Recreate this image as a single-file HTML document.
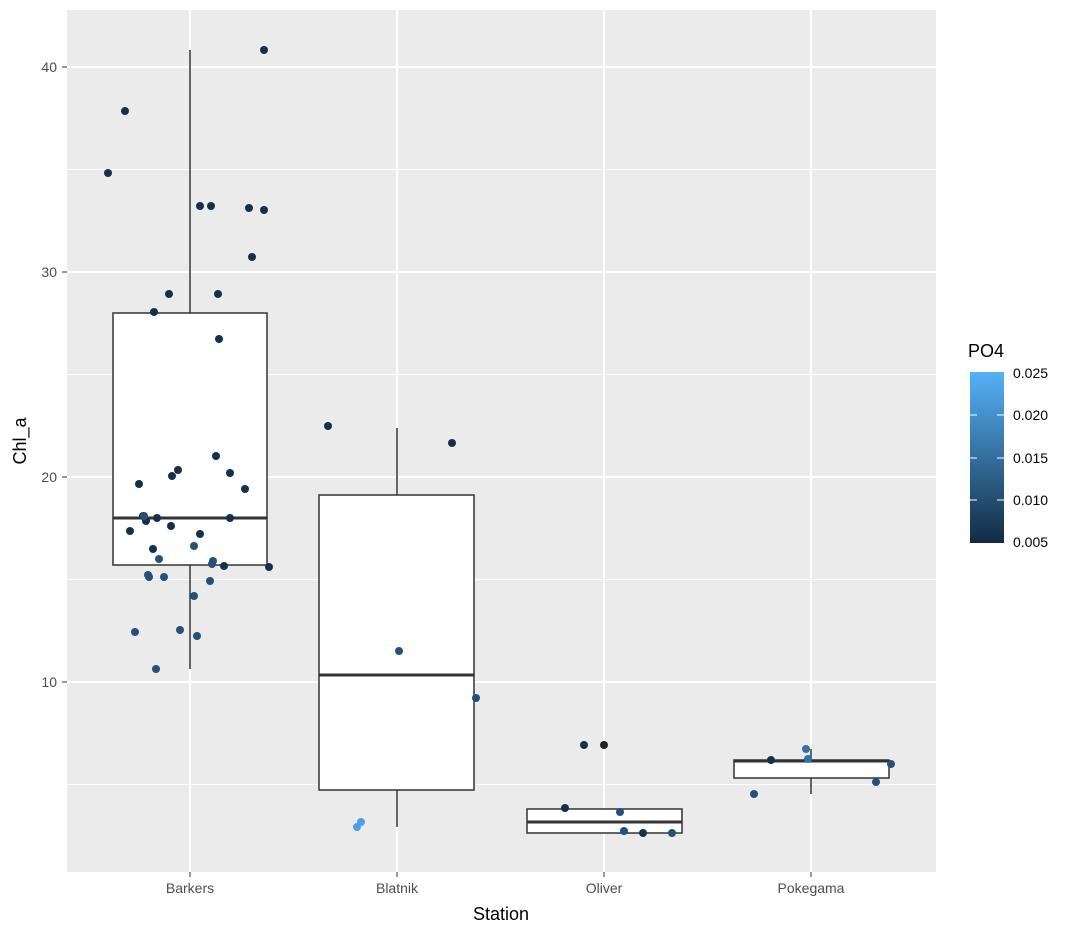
<!DOCTYPE html>
<html><head><meta charset="utf-8"><style>body{margin:0;background:#fff}</style></head><body>
<svg width="1080" height="936" xmlns="http://www.w3.org/2000/svg" font-family="Liberation Sans, sans-serif">
<defs><linearGradient id="g" x1="0" y1="1" x2="0" y2="0"><stop offset="0" stop-color="#132B43"/><stop offset="1" stop-color="#56B1F7"/></linearGradient></defs>
<rect x="67" y="10" width="869" height="862" fill="#EBEBEB"/>
<g stroke="#fff" stroke-width="1">
<line x1="67" x2="936" y1="169.5" y2="169.5"/><line x1="67" x2="936" y1="374.5" y2="374.5"/><line x1="67" x2="936" y1="579.5" y2="579.5"/><line x1="67" x2="936" y1="784.5" y2="784.5"/>
</g>
<g stroke="#fff" stroke-width="2">
<line x1="67" x2="936" y1="67" y2="67"/><line x1="67" x2="936" y1="272" y2="272"/><line x1="67" x2="936" y1="477" y2="477"/><line x1="67" x2="936" y1="682" y2="682"/>
<line x1="190" x2="190" y1="10" y2="872"/><line x1="397" x2="397" y1="10" y2="872"/><line x1="604" x2="604" y1="10" y2="872"/><line x1="811" x2="811" y1="10" y2="872"/>
</g>
<g stroke="#333" stroke-width="1.5" fill="#fff">
<line x1="190" x2="190" y1="50" y2="313"/><line x1="190" x2="190" y1="565" y2="669"/>
<rect x="113" y="313" width="154" height="252"/>
<line x1="397" x2="397" y1="428" y2="495"/><line x1="397" x2="397" y1="790" y2="827"/>
<rect x="319" y="495" width="155" height="295"/>
<rect x="527" y="809" width="155" height="24"/>
<line x1="811" x2="811" y1="749" y2="760"/><line x1="811" x2="811" y1="778" y2="794"/>
<rect x="734" y="760" width="155" height="18"/>
</g>
<g stroke="#333" stroke-width="3">
<line x1="113" x2="267" y1="518" y2="518"/><line x1="319" x2="474" y1="675" y2="675"/><line x1="527" x2="682" y1="822" y2="822"/><line x1="734" x2="889" y1="761" y2="761"/>
</g>
<g fill="#15304A">
<circle cx="264" cy="50" r="4"/><circle cx="125" cy="111" r="4"/><circle cx="108" cy="173" r="4"/>
<circle cx="200" cy="206" r="4"/><circle cx="211" cy="206" r="4"/><circle cx="249" cy="208" r="4"/><circle cx="264" cy="210" r="4"/>
<circle cx="252" cy="257" r="4"/><circle cx="169" cy="294" r="4"/><circle cx="218" cy="294" r="4"/><circle cx="154" cy="312" r="4"/>
<circle cx="219" cy="339" r="4"/><circle cx="216" cy="456" r="4"/><circle cx="178" cy="470" r="4"/><circle cx="172" cy="476" r="4"/>
<circle cx="230" cy="473" r="4"/><circle cx="139" cy="484" r="4"/><circle cx="245" cy="489" r="4"/><circle cx="143" cy="516" r="4"/>
<circle cx="157" cy="518" r="4"/><circle cx="230" cy="518" r="4"/><circle cx="146" cy="521" r="4"/><circle cx="171" cy="526" r="4"/>
<circle cx="130" cy="531" r="4"/><circle cx="200" cy="534" r="4"/><circle cx="153" cy="549" r="4"/><circle cx="269" cy="567" r="4"/>
<circle cx="224" cy="566" r="4"/><circle cx="328" cy="426" r="4"/><circle cx="452" cy="443" r="4"/>
<circle cx="584" cy="745" r="4"/><circle cx="604" cy="745" r="4" fill="#222"/><circle cx="565" cy="808" r="4"/><circle cx="643" cy="833" r="4"/>
<circle cx="771" cy="760" r="4"/>
</g>
<g fill="#25507A">
<circle cx="144" cy="516" r="4"/><circle cx="194" cy="546" r="4"/><circle cx="213" cy="561" r="4"/><circle cx="212" cy="564" r="4"/>
<circle cx="159" cy="559" r="4"/><circle cx="148" cy="575" r="4"/><circle cx="149" cy="577" r="4"/><circle cx="164" cy="577" r="4"/>
<circle cx="210" cy="581" r="4"/><circle cx="194" cy="596" r="4"/><circle cx="135" cy="632" r="4"/><circle cx="180" cy="630" r="4"/>
<circle cx="197" cy="636" r="4"/><circle cx="156" cy="669" r="4"/><circle cx="399" cy="651" r="4"/><circle cx="476" cy="698" r="4"/>
<circle cx="620" cy="812" r="4"/><circle cx="624" cy="831" r="4"/><circle cx="672" cy="833" r="4"/>
<circle cx="754" cy="794" r="4"/><circle cx="876" cy="782" r="4"/><circle cx="891" cy="764" r="4"/>
</g>
<g fill="#3170AA"><circle cx="806" cy="749" r="4"/><circle cx="808" cy="759" r="4"/></g>
<g fill="#4D9FE8"><circle cx="361" cy="822" r="4"/><circle cx="357" cy="827" r="4"/></g>
<g font-size="14" fill="#4D4D4D" text-anchor="end">
<text x="57" y="72">40</text><text x="57" y="277">30</text><text x="57" y="482">20</text><text x="57" y="687">10</text>
</g>
<g stroke="#333"><line x1="62" x2="67" y1="67" y2="67"/><line x1="62" x2="67" y1="272" y2="272"/><line x1="62" x2="67" y1="477" y2="477"/><line x1="62" x2="67" y1="682" y2="682"/>
<line x1="190" x2="190" y1="872" y2="877"/><line x1="397" x2="397" y1="872" y2="877"/><line x1="604" x2="604" y1="872" y2="877"/><line x1="811" x2="811" y1="872" y2="877"/></g>
<g font-size="14" fill="#4D4D4D" text-anchor="middle">
<text x="190" y="893">Barkers</text><text x="397" y="893">Blatnik</text><text x="604" y="893">Oliver</text><text x="811" y="893">Pokegama</text>
</g>
<text x="501" y="920" font-size="18" text-anchor="middle">Station</text>
<text x="26" y="441" font-size="18" text-anchor="middle" transform="rotate(-90 26 441)">Chl_a</text>
<text x="968" y="357" font-size="18">PO4</text>
<rect x="970" y="372" width="34" height="171" fill="url(#g)"/>
<g stroke="#fff"><line x1="970" x2="977" y1="415" y2="415"/><line x1="997" x2="1004" y1="415" y2="415"/><line x1="970" x2="977" y1="458" y2="458"/><line x1="997" x2="1004" y1="458" y2="458"/><line x1="970" x2="977" y1="500" y2="500"/><line x1="997" x2="1004" y1="500" y2="500"/></g>
<g font-size="14" fill="#000"><text x="1013" y="378">0.025</text><text x="1013" y="420">0.020</text><text x="1013" y="463">0.015</text><text x="1013" y="505">0.010</text><text x="1013" y="547">0.005</text></g>
</svg>
</body></html>
